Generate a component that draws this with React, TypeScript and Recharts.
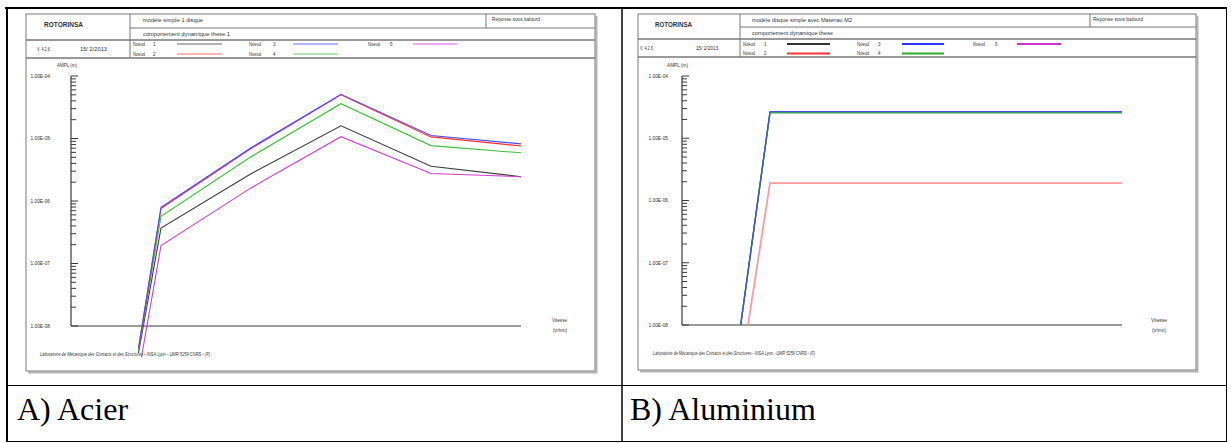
import { LineChart, Line, XAxis, YAxis } from "recharts";

const PAGE_W = 1231;
const PAGE_H = 443;

// Acier: amplitude (m) per node against speed (tr/mn)
const acierSpeed = [4500, 6000, 12000, 18000, 24000, 30000];
const acierNoeud1 = [3.7e-9, 3.7e-7, 2.73e-6, 1.6e-5, 3.6e-6, 2.45e-6];
const acierNoeud2 = [4.4e-9, 7.6e-7, 6.9e-6, 5.0e-5, 1.06e-5, 7.6e-6];
const acierNoeud3 = [4.4e-9, 7.9e-7, 7.1e-6, 5.1e-5, 1.12e-5, 8.2e-6];
const acierNoeud4 = [4.0e-9, 5.7e-7, 5.1e-6, 3.6e-5, 7.7e-6, 5.9e-6];
const acierNoeud5 = [1.7e-9, 1.94e-7, 1.62e-6, 1.07e-5, 2.76e-6, 2.45e-6];

// Aluminium
const aluSpeed = [4000, 6000, 30000];
const aluSpeedNoeud2 = [4500, 6000, 30000];
const aluNoeud1 = [1e-8, 2.58e-5, 2.58e-5];
const aluNoeud2 = [1e-8, 1.9e-6, 1.9e-6];
const aluNoeud3 = [1e-8, 2.68e-5, 2.68e-5];
const aluNoeud4 = [1e-8, 2.58e-5, 2.58e-5];

const speedTicks = [0, 3000, 6000, 9000, 12000, 15000, 18000, 21000, 24000, 27000, 30000];
const decadeTicks = [1e-8, 1e-7, 1e-6, 1e-5, 1e-4];
const decadeLabels = ["1.00E-08", "1.00E-07", "1.00E-06", "1.00E-05", "1.00E-04"];
const minorSteps = [2, 3, 4, 5, 6, 7, 8, 9];
const yTicks = [
  ...decadeTicks,
  ...decadeTicks.slice(0, -1).flatMap((d) => minorSteps.map((m) => m * d)),
];

const AXIS = "#3a3a3a";
const TEXT = "#333";
const SANS = "'Liberation Sans', Arial, sans-serif";

type Series = { name: string; speeds: number[]; values: number[]; color: string; width: number };

const acierSeries: Series[] = [
  { name: "Noeud 1", speeds: acierSpeed, values: acierNoeud1, color: "#3c3c3c", width: 1.1 },
  { name: "Noeud 5", speeds: acierSpeed, values: acierNoeud5, color: "#d03cd0", width: 1.1 },
  { name: "Noeud 4", speeds: acierSpeed, values: acierNoeud4, color: "#3cc03c", width: 1.1 },
  { name: "Noeud 2", speeds: acierSpeed, values: acierNoeud2, color: "#ff3030", width: 1.1 },
  { name: "Noeud 3", speeds: acierSpeed, values: acierNoeud3, color: "#4a4aff", width: 1.1 },
];

const aluSeries: Series[] = [
  { name: "Noeud 1", speeds: aluSpeed, values: aluNoeud1, color: "#333333", width: 1.3 },
  { name: "Noeud 4", speeds: aluSpeed, values: aluNoeud4, color: "#3cb83c", width: 1.3 },
  { name: "Noeud 3", speeds: aluSpeed, values: aluNoeud3, color: "#4050e0", width: 1.3 },
  { name: "Noeud 2", speeds: aluSpeedNoeud2, values: aluNoeud2, color: "#ff9a9a", width: 1.8 },
];

const toPoints = (speeds: number[], values: number[]) =>
  speeds.map((v, i) => ({ vitesse: v, ampl: values[i] }));

const yTickLabel = (v: number) => {
  const i = decadeTicks.findIndex((d) => Math.abs(v / d - 1) < 1e-6);
  return i >= 0 ? decadeLabels[i] : null;
};

function YTick(props: any) {
  const { x, y, payload, gap } = props;
  const label = yTickLabel(payload.value);
  return (
    <g>
      <line x1={x} x2={x + (label ? 7 : 5)} y1={y} y2={y} stroke={AXIS} strokeWidth={1} />
      {label && (
        <text x={x - gap} y={y + 1.8} textAnchor="end" fontSize={4.8} fontFamily={SANS} fill={TEXT}>
          {label}
        </text>
      )}
    </g>
  );
}

function XTick(props: any) {
  const { x, y, payload } = props;
  return (
    <g>
      <line x1={x} x2={x} y1={y} y2={y - 7} stroke={AXIS} strokeWidth={1} />
      <text x={x} y={y + 15} textAnchor="end" fontSize={4.8} fontFamily={SANS} fill={TEXT}>
        {payload.value}.
      </text>
    </g>
  );
}

type ChartProps = {
  left: number;
  width: number;
  plotLeft: number;
  plotRight: number;
  plotTop: number;
  axisBottom: number;
  floor: number;
  gap: number;
  series: Series[];
};

function PanelChart({ left, width, plotLeft, plotRight, plotTop, axisBottom, floor, gap, series }: ChartProps) {
  const decadePx = (axisBottom - plotTop) / 4;
  const linesBottom = axisBottom + decadePx * (Math.log10(1e-8) - Math.log10(floor));
  const right = left + width - plotRight;
  return (
    <>
      <div style={{ position: "absolute", left, top: 0 }}>
        <LineChart
          width={width}
          height={PAGE_H}
          margin={{ top: plotTop, left: plotLeft - left - 60, right, bottom: PAGE_H - axisBottom - 30 }}
        >
          <XAxis
            type="number"
            dataKey="vitesse"
            domain={[0, 30000]}
            ticks={speedTicks}
            interval={0}
            height={30}
            tickSize={0}
            tickMargin={0}
            tickLine={false}
            axisLine={{ stroke: AXIS, strokeWidth: 1.2 }}
            tick={<XTick />}
          />
          <YAxis
            type="number"
            scale="log"
            domain={[1e-8, 1e-4]}
            allowDataOverflow
            ticks={yTicks}
            interval={0}
            width={60}
            tickSize={0}
            tickMargin={0}
            tickLine={false}
            axisLine={{ stroke: AXIS, strokeWidth: 1.2 }}
            tick={<YTick gap={gap} />}
          />
        </LineChart>
      </div>
      <div style={{ position: "absolute", left, top: 0 }}>
        <LineChart
          width={width}
          height={PAGE_H}
          margin={{ top: plotTop, left: plotLeft - left, right, bottom: PAGE_H - linesBottom }}
        >
          <XAxis hide type="number" dataKey="vitesse" domain={[0, 30000]} />
          <YAxis hide type="number" scale="log" domain={[floor, 1e-4]} allowDataOverflow />
          {series.map((s) => (
            <Line
              key={s.name}
              data={toPoints(s.speeds, s.values)}
              dataKey="ampl"
              type="linear"
              stroke={s.color}
              strokeWidth={s.width}
              dot={false}
              isAnimationActive={false}
            />
          ))}
        </LineChart>
      </div>
    </>
  );
}

type Txt = { x: number; w: number };
type FrameCfg = {
  x0: number; x1: number; y0: number; y1: number;
  logoX: number; reponseX: number; rows: number[];
  logo: Txt; title1: Txt & { text: string }; reponse: Txt; title2: Txt & { text: string };
  version: Txt; date: Txt;
  legendCols: { label: number; num: number; line: [number, number] }[];
  legendRows: number[];
  legendColors: string[];
  ampl: Txt; vitesse: Txt; unit: Txt; footer: Txt & { y: number };
};

function T({ x, y, w, size = 5, children, bold, italic }: any) {
  return (
    <text
      x={x}
      y={y}
      fontSize={size}
      fontFamily={SANS}
      fontWeight={bold ? "bold" : "normal"}
      fontStyle={italic ? "italic" : "normal"}
      fill={TEXT}
      textLength={w}
      lengthAdjust="spacingAndGlyphs"
    >
      {children}
    </text>
  );
}

function Frame({ c }: { c: FrameCfg }) {
  const [r1, r2, r3] = c.rows;
  const legend = [
    [0, 0, "1"], [0, 1, "2"], [1, 0, "3"], [1, 1, "4"], [2, 0, "5"],
  ] as const;
  return (
    <g>
      {/* shadow + outer frame */}
      <path d={`M${c.x1 + 1.5} ${c.y0 + 2} V${c.y1 + 1.5} H${c.x0 + 2}`} stroke="#b5b5b5" strokeWidth={2} fill="none" />
      <rect x={c.x0} y={c.y0} width={c.x1 - c.x0} height={c.y1 - c.y0} fill="none" stroke="#7a7a7a" strokeWidth={1} />
      <line x1={c.logoX} x2={c.x1} y1={r1} y2={r1} stroke="#777" strokeWidth={1} />
      <line x1={c.x0} x2={c.x1} y1={r2} y2={r2} stroke="#777" strokeWidth={1.6} />
      <line x1={c.x0} x2={c.x1} y1={r3} y2={r3} stroke="#777" strokeWidth={1.6} />
      <line x1={c.logoX} x2={c.logoX} y1={c.y0} y2={r3} stroke="#777" strokeWidth={1} />
      <line x1={c.reponseX} x2={c.reponseX} y1={c.y0} y2={r1} stroke="#777" strokeWidth={1} />

      <T x={c.logo.x} y={26.5} w={c.logo.w} size={7} bold>ROTORINSA</T>
      <T x={c.title1.x} y={21.5} w={c.title1.w} size={5.5}>{c.title1.text}</T>
      <T x={c.reponse.x} y={21} w={c.reponse.w} size={5.3}>Réponse sous balourd</T>
      <T x={c.title2.x} y={(r1 + r2) / 2 + 2} w={c.title2.w} size={5.5}>{c.title2.text}</T>
      <T x={c.version.x} y={(r2 + r3) / 2 + 1.8} w={c.version.w}>V. 4.2.6</T>
      <T x={c.date.x} y={(r2 + r3) / 2 + 1.8} w={c.date.w}>15/ 2/2013</T>

      {legend.map(([col, row, n], i) => {
        const lc = c.legendCols[col];
        const ly = c.legendRows[row];
        return (
          <g key={n}>
            <T x={lc.label} y={ly + 1.8} w={12}>Noeud</T>
            <T x={lc.num} y={ly + 1.8} w={2.5}>{n}</T>
            <line x1={lc.line[0]} x2={lc.line[1]} y1={ly} y2={ly} stroke={c.legendColors[i]} strokeWidth={1.8} />
          </g>
        );
      })}

      <T x={c.ampl.x} y={66.5} w={c.ampl.w} size={4.8}>AMPL (m)</T>
      <T x={c.vitesse.x} y={322} w={c.vitesse.w} size={4.8}>Vitesse</T>
      <T x={c.unit.x} y={332} w={c.unit.w} size={4.8}>(tr/mn)</T>
      <T x={c.footer.x} y={c.footer.y} w={c.footer.w} size={4.6} italic>
        Laboratoire de Mécanique des Contacts et des Structures - INSA Lyon - UMR 5259 CNRS - (F)
      </T>
    </g>
  );
}

const frameA: FrameCfg = {
  x0: 26, x1: 595, y0: 14, y1: 371,
  logoX: 130, reponseX: 486, rows: [28, 40, 58],
  logo: { x: 44, w: 39 },
  title1: { text: "modèle simple 1 disque", x: 143, w: 60 },
  reponse: { x: 492, w: 48 },
  title2: { text: "comportement dynamique these 1", x: 143, w: 87 },
  version: { x: 37, w: 13 },
  date: { x: 80, w: 27 },
  legendCols: [
    { label: 133, num: 153, line: [177, 222] },
    { label: 249, num: 273, line: [293, 338] },
    { label: 368, num: 390, line: [413, 457] },
  ],
  legendRows: [44, 54],
  legendColors: ["#b4b4b4", "#ffb4b4", "#b4b4ff", "#b4e4b4", "#eeaaee"],
  ampl: { x: 57, w: 20 },
  vitesse: { x: 552, w: 15 },
  unit: { x: 553, w: 14 },
  footer: { x: 40, w: 170, y: 356 },
};

const frameB: FrameCfg = {
  x0: 638, x1: 1196, y0: 14, y1: 370,
  logoX: 740, reponseX: 1090, rows: [27, 39, 57],
  logo: { x: 655, w: 37 },
  title1: { text: "modèle disque simple avec Matériau M2", x: 752, w: 100 },
  reponse: { x: 1093, w: 50 },
  title2: { text: "comportement dynamique these", x: 752, w: 81 },
  version: { x: 640, w: 13 },
  date: { x: 696, w: 22 },
  legendCols: [
    { label: 743, num: 764, line: [787, 830] },
    { label: 857, num: 878, line: [902, 944] },
    { label: 973, num: 995, line: [1017, 1061] },
  ],
  legendRows: [44, 53.5],
  legendColors: ["#333333", "#ff3333", "#3333ff", "#2eaa2e", "#cc33cc"],
  ampl: { x: 667, w: 21 },
  vitesse: { x: 1151, w: 16 },
  unit: { x: 1152, w: 14 },
  footer: { x: 653, w: 162, y: 355 },
};

export default function App() {
  return (
    <div style={{ position: "relative", width: PAGE_W, height: PAGE_H, background: "#fff", overflow: "hidden" }}>
      <style>{"body{margin:0}"}</style>
      <svg width={PAGE_W} height={PAGE_H} style={{ position: "absolute", left: 0, top: 0 }}>
        {/* table borders */}
        <line x1={5} x2={1227} y1={8} y2={8} stroke="#000" strokeWidth={2} />
        <line x1={7} x2={7} y1={7} y2={442} stroke="#000" strokeWidth={2} />
        <line x1={622} x2={622} y1={7} y2={442} stroke="#000" strokeWidth={1.5} />
        <line x1={1226.5} x2={1226.5} y1={7} y2={442} stroke="#000" strokeWidth={1} />
        <line x1={6} x2={1227} y1={385.5} y2={385.5} stroke="#000" strokeWidth={1} />
        <line x1={6} x2={1227} y1={441.5} y2={441.5} stroke="#000" strokeWidth={1} />
        <Frame c={frameA} />
        <Frame c={frameB} />
        <text x={17} y={420} fontSize={32} fontFamily="'Liberation Serif', 'Times New Roman', serif" fill="#000">
          A) Acier
        </text>
        <text x={630} y={420} fontSize={32} fontFamily="'Liberation Serif', 'Times New Roman', serif" fill="#000">
          B) Aluminium
        </text>
      </svg>
      <PanelChart
        left={0}
        width={610}
        plotLeft={71}
        plotRight={521}
        plotTop={76}
        axisBottom={326}
        floor={Math.pow(10, -8.5)}
        gap={21}
        series={acierSeries}
      />
      <PanelChart
        left={612}
        width={619}
        plotLeft={682}
        plotRight={1122}
        plotTop={76}
        axisBottom={325}
        floor={1e-8}
        gap={14}
        series={aluSeries}
      />
    </div>
  );
}
